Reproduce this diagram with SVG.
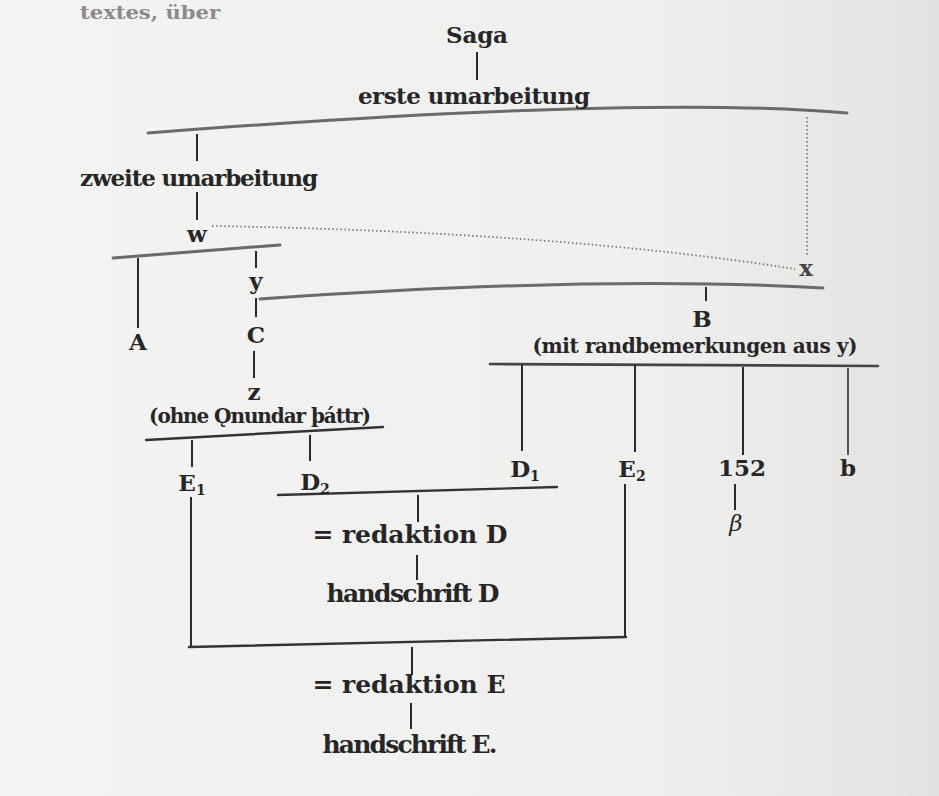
<svg xmlns="http://www.w3.org/2000/svg" width="939" height="796" viewBox="0 0 939 796">
<defs>
<linearGradient id="bg" x1="0" y1="0" x2="1" y2="0">
<stop offset="0" stop-color="#f3f3f1"/>
<stop offset="0.7" stop-color="#efefed"/>
<stop offset="1" stop-color="#e2e2e0"/>
</linearGradient>
<style>
text{font-family:"DejaVu Serif","Liberation Serif",serif;font-weight:bold;fill:#262626;text-anchor:middle}
.s{font-size:23px}
.m{font-size:20px}
.l{font-size:25px}
.h{stroke:#6a6a6a;stroke-width:3;fill:none;stroke-linecap:round}
.v{stroke:#2a2a2a;stroke-width:2;fill:none}
.d{stroke:#7a7a7a;stroke-width:1.8;fill:none;stroke-dasharray:1.5 2.5}
.sub{font-size:14px}
</style>
</defs>
<rect width="939" height="796" fill="url(#bg)"/>
<text x="150" y="19" style="font-size:18px;fill:#8a8a8a" textLength="140" lengthAdjust="spacingAndGlyphs">textes, über</text>
<g id="connectors">
<path class="v" d="M477,52V80"/>
<path class="h" d="M148,133 Q640,95 847,113"/>
<path class="d" d="M807,117V256"/>
<path class="v" d="M197,134V161"/>
<path class="v" d="M197,192V220"/>
<path class="d" d="M212,226 Q560,232 795,269"/>
<path class="h" d="M113,258 L280,245"/>
<path class="v" d="M138,258V328"/>
<path class="v" d="M256,251V268"/>
<path class="h" d="M260,299 Q600,275 823,288"/>
<path class="v" d="M256,298V317"/>
<path class="v" d="M706,287V301"/>
<path class="v" d="M254,351V378"/>
<path class="h" d="M146,440 L383,427" style="stroke:#333;stroke-width:2.4"/>
<path class="v" d="M192,440V467"/>
<path class="v" d="M310,435V461"/>
<path class="h" d="M490,364 L878,366" style="stroke:#444;stroke-width:2.6"/>
<path class="v" d="M522,365V451"/>
<path class="v" d="M635,365V452"/>
<path class="v" d="M743,367V455"/>
<path class="v" d="M848,368V455" style="stroke:#555"/>
<path class="v" d="M735,484V510"/>
<path class="h" d="M278,495 L557,487" style="stroke:#333;stroke-width:2.4"/>
<path class="v" d="M418,495V522"/>
<path class="v" d="M417,555V580"/>
<path class="v" d="M191,497V646"/>
<path class="v" d="M625,484V637"/>
<path class="h" d="M189,647 L626,637" style="stroke:#333;stroke-width:2.4"/>
<path class="v" d="M412,647V675"/>
<path class="v" d="M411,703V729"/>
</g>
<g id="saga"><text x="477" y="43" class="s" textLength="62" lengthAdjust="spacing">Saga</text></g>
<g id="erste"><text x="474" y="104" class="s" textLength="232" lengthAdjust="spacing">erste umarbeitung</text></g>
<g id="zweite"><text x="199" y="186" class="s" textLength="238" lengthAdjust="spacing">zweite umarbeitung</text></g>
<g id="w"><text x="197" y="242" class="s">w</text></g>
<g id="x"><text x="806" y="276" class="s" style="fill:#444">x</text></g>
<g id="y"><text x="256" y="289" class="s">y</text></g>
<g id="A"><text x="138" y="350" class="s">A</text></g>
<g id="C"><text x="256" y="343" class="s">C</text></g>
<g id="B"><text x="702" y="327" class="s">B</text></g>
<g id="B-note"><text x="695" y="353" class="m" textLength="325" lengthAdjust="spacing">(mit randbemerkungen aus y)</text></g>
<g id="z"><text x="254" y="400" class="s">z</text></g>
<g id="z-note"><text x="260" y="423" class="m" textLength="222" lengthAdjust="spacing">(ohne Ǫnundar þáttr)</text></g>
<g id="E1"><text x="192" y="491" class="s">E<tspan class="sub" dy="4">1</tspan></text></g>
<g id="D2"><text x="315" y="490" class="s">D<tspan class="sub" dy="4">2</tspan></text></g>
<g id="D1"><text x="525" y="477" class="s">D<tspan class="sub" dy="4">1</tspan></text></g>
<g id="E2"><text x="632" y="477" class="s">E<tspan class="sub" dy="4">2</tspan></text></g>
<g id="n152"><text x="742" y="476" class="s">152</text></g>
<g id="b"><text x="848" y="476" class="s">b</text></g>
<g id="beta"><text x="736" y="531" class="s" style="font-style:italic;font-weight:normal">β</text></g>
<g id="redD"><text x="410" y="543" class="l" textLength="195" lengthAdjust="spacing">= redaktion D</text></g>
<g id="hsD"><text x="413" y="602" class="l" textLength="173" lengthAdjust="spacing">handschrift D</text></g>
<g id="redE"><text x="409" y="693" class="l" textLength="193" lengthAdjust="spacing">= redaktion E</text></g>
<g id="hsE"><text x="410" y="753" class="l" textLength="175" lengthAdjust="spacing">handschrift E.</text></g>
</svg>
